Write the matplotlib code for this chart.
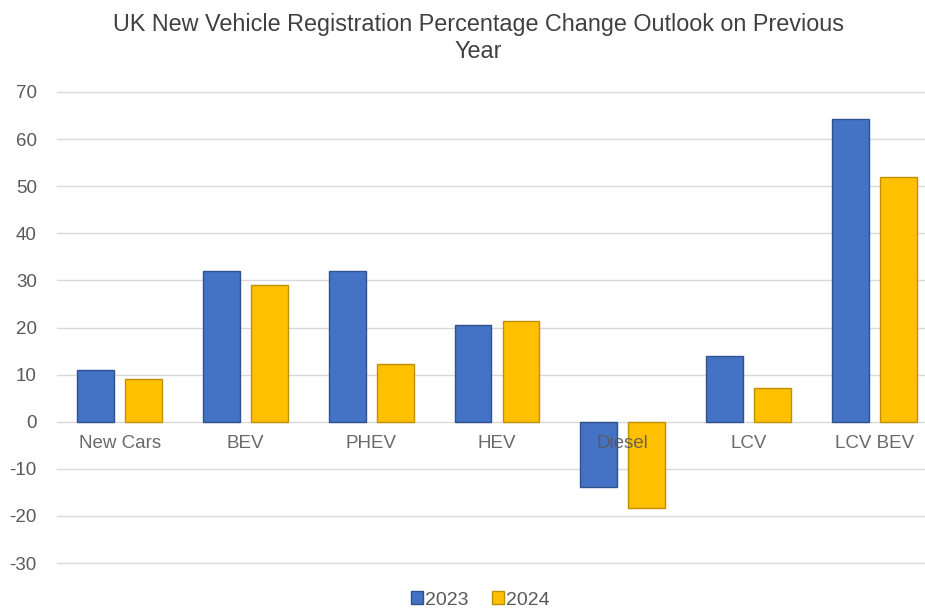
import matplotlib.pyplot as plt
import numpy as np

plt.rcParams['font.family'] = ['Liberation Sans', 'DejaVu Sans']
plt.rcParams['axes.unicode_minus'] = False

categories = ["New Cars", "BEV", "PHEV", "HEV", "Diesel", "LCV", "LCV BEV"]
vals_2023 = [11.0, 32.1, 31.9, 20.6, -13.9, 14.0, 64.3]
vals_2024 = [9.1, 29.1, 12.3, 21.3, -18.3, 7.2, 51.9]

blue, blue_edge = "#4472C4", "#2F528F"
gold, gold_edge = "#FFC000", "#BF9000"
grey_text = "#595959"

fig = plt.figure(figsize=(9.25, 6.1), dpi=100)
ax = fig.add_axes([57 / 925, 47 / 610, 880 / 925, 471 / 610])

x = np.arange(len(categories))
w = 0.294
off = 0.191
ax.bar(x - off, vals_2023, w, color=blue, edgecolor=blue_edge, linewidth=1, label="2023", zorder=2)
ax.bar(x + off, vals_2024, w, color=gold, edgecolor=gold_edge, linewidth=1, label="2024", zorder=2)

ax.set_xlim(-0.5, len(categories) - 0.5)
ax.set_ylim(-30, 70)
ax.set_yticks(range(-30, 71, 10))
ax.yaxis.grid(True, color="#D9D9D9", linewidth=1)
ax.set_axisbelow(True)
for gl in ax.get_ygridlines():
    gl.set_clip_on(False)

for s in ax.spines.values():
    s.set_visible(False)
ax.set_xticks([])
ax.tick_params(axis='y', length=0, pad=14.5, labelsize=13.5, labelcolor=grey_text)

# category labels sit just under the zero line, drawn over the bars
for xi, name in zip(x, categories):
    ax.text(xi, 0, name, ha='center', va='center', fontsize=13.5,
            color=grey_text, alpha=0.9, zorder=5,
            transform=ax.transData + plt.matplotlib.transforms.ScaledTranslation(0, -22 / 100, fig.dpi_scale_trans))

fig.text(478 / 925, 1 - 25 / 610, "UK New Vehicle Registration Percentage Change Outlook on Previous",
         ha='center', va='center', fontsize=16.8, color="#404040")
fig.text(478 / 925, 1 - 52 / 610, "Year", ha='center', va='center', fontsize=16.8, color="#404040")

fig.legend(loc='center', bbox_to_anchor=(480 / 925, 1 - 600 / 610), ncol=2, frameon=False,
           fontsize=14, handlelength=0.62, handleheight=0.62, handletextpad=0.1,
           columnspacing=1.2, labelcolor=grey_text)

fig.savefig("out.png", dpi=100)
